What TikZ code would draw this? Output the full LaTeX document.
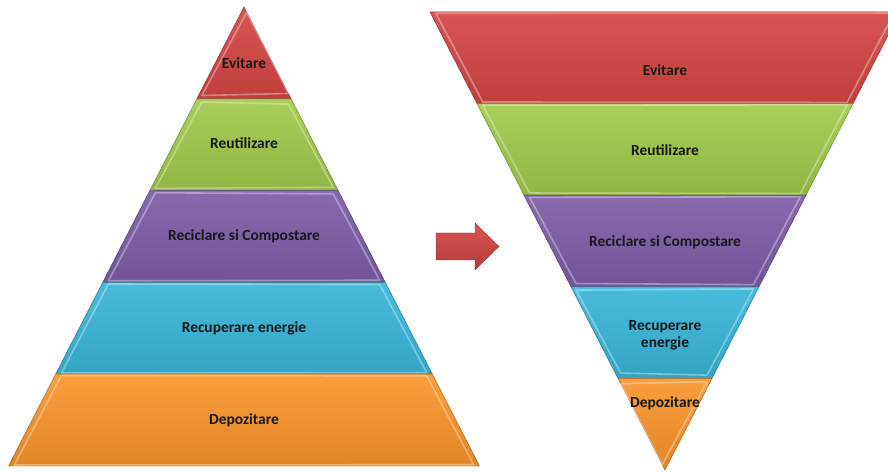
\documentclass[tikz,border=0pt]{standalone}
\usepackage{fontspec}
\setmainfont{Carlito}
\usetikzlibrary{calc}

\definecolor{evred}{HTML}{D44643}
\definecolor{reugreen}{HTML}{A2CA4B}
\definecolor{recpurple}{HTML}{7E5DA8}
\definecolor{encyan}{HTML}{39B6DA}
\definecolor{deporange}{HTML}{FA952C}

\tikzset{
  band/.style={top color=#1!92!white, bottom color=#1!90!black, draw=#1!70!black, line width=0.5pt},
  bevel/.style={draw=white, opacity=0.35, line width=1.6pt, line join=round},
  lvl/.style={font=\bfseries\fontsize{15.5}{17}\selectfont, text=black!90, align=center}
}

\begin{document}
\begin{tikzpicture}[x=1bp,y=-1bp]
  \useasboundingbox (0,0) rectangle (888,472);
  \clip (0,0) rectangle (888,472);

  % pyramid
  \coordinate (top) at (244,7);
  \coordinate (bl)  at (8.5,466);
  \coordinate (br)  at (479.5,466);
  % funnel
  \coordinate (tl)  at (430,12);
  \coordinate (tr)  at (900,12);
  \coordinate (v)   at (665,470);

  \foreach \c [count=\k from 0] in {evred,reugreen,recpurple,encyan,deporange} {
    \pgfmathsetmacro\ta{\k/5}
    \pgfmathsetmacro\tb{(\k+1)/5}
    \coordinate (a) at ($(top)!\ta!(bl)$);
    \coordinate (b) at ($(top)!\ta!(br)$);
    \coordinate (c) at ($(top)!\tb!(br)$);
    \coordinate (d) at ($(top)!\tb!(bl)$);
    \coordinate (m) at ($(a)!0.5!(c)$);
    \draw [band=\c] (a) -- (b) -- (c) -- (d) -- cycle;
    \draw [bevel] ($(a)!6pt!(m)$) -- ($(b)!6pt!(m)$) -- ($(c)!6pt!(m)$) -- ($(d)!6pt!(m)$) -- cycle;

    \coordinate (a) at ($(tl)!\ta!(v)$);
    \coordinate (b) at ($(tr)!\ta!(v)$);
    \coordinate (c) at ($(tr)!\tb!(v)$);
    \coordinate (d) at ($(tl)!\tb!(v)$);
    \coordinate (m) at ($(a)!0.5!(c)$);
    \draw [band=\c] (a) -- (b) -- (c) -- (d) -- cycle;
    \draw [bevel] ($(a)!6pt!(m)$) -- ($(b)!6pt!(m)$) -- ($(c)!6pt!(m)$) -- ($(d)!6pt!(m)$) -- cycle;
  }

  % arrow
  \draw [top color=evred!92!white, bottom color=evred!85!black, draw=evred!70!black, line width=0.4pt]
    (436,233) -- (475,233) -- (475,223) -- (499,246.5) -- (475,270) -- (475,260) -- (436,260) -- cycle;

  \node [lvl] (p1) at (244,63)  {Evitare};
  \node [lvl] (p2) at (244,143) {Reutilizare};
  \node [lvl] (p3) at (244,236) {Reciclare si Compostare};
  \node [lvl] (p4) at (244,328) {Recuperare energie};
  \node [lvl] (p5) at (244,420) {Depozitare};

  \node [lvl] (f1) at (665,70)  {Evitare};
  \node [lvl] (f2) at (665,150) {Reutilizare};
  \node [lvl] (f3) at (665,242) {Reciclare si Compostare};
  \node [lvl] (f4) at (665,335) {Recuperare\\energie};
  \node [lvl] (f5) at (665,403) {Depozitare};
\end{tikzpicture}
\end{document}
